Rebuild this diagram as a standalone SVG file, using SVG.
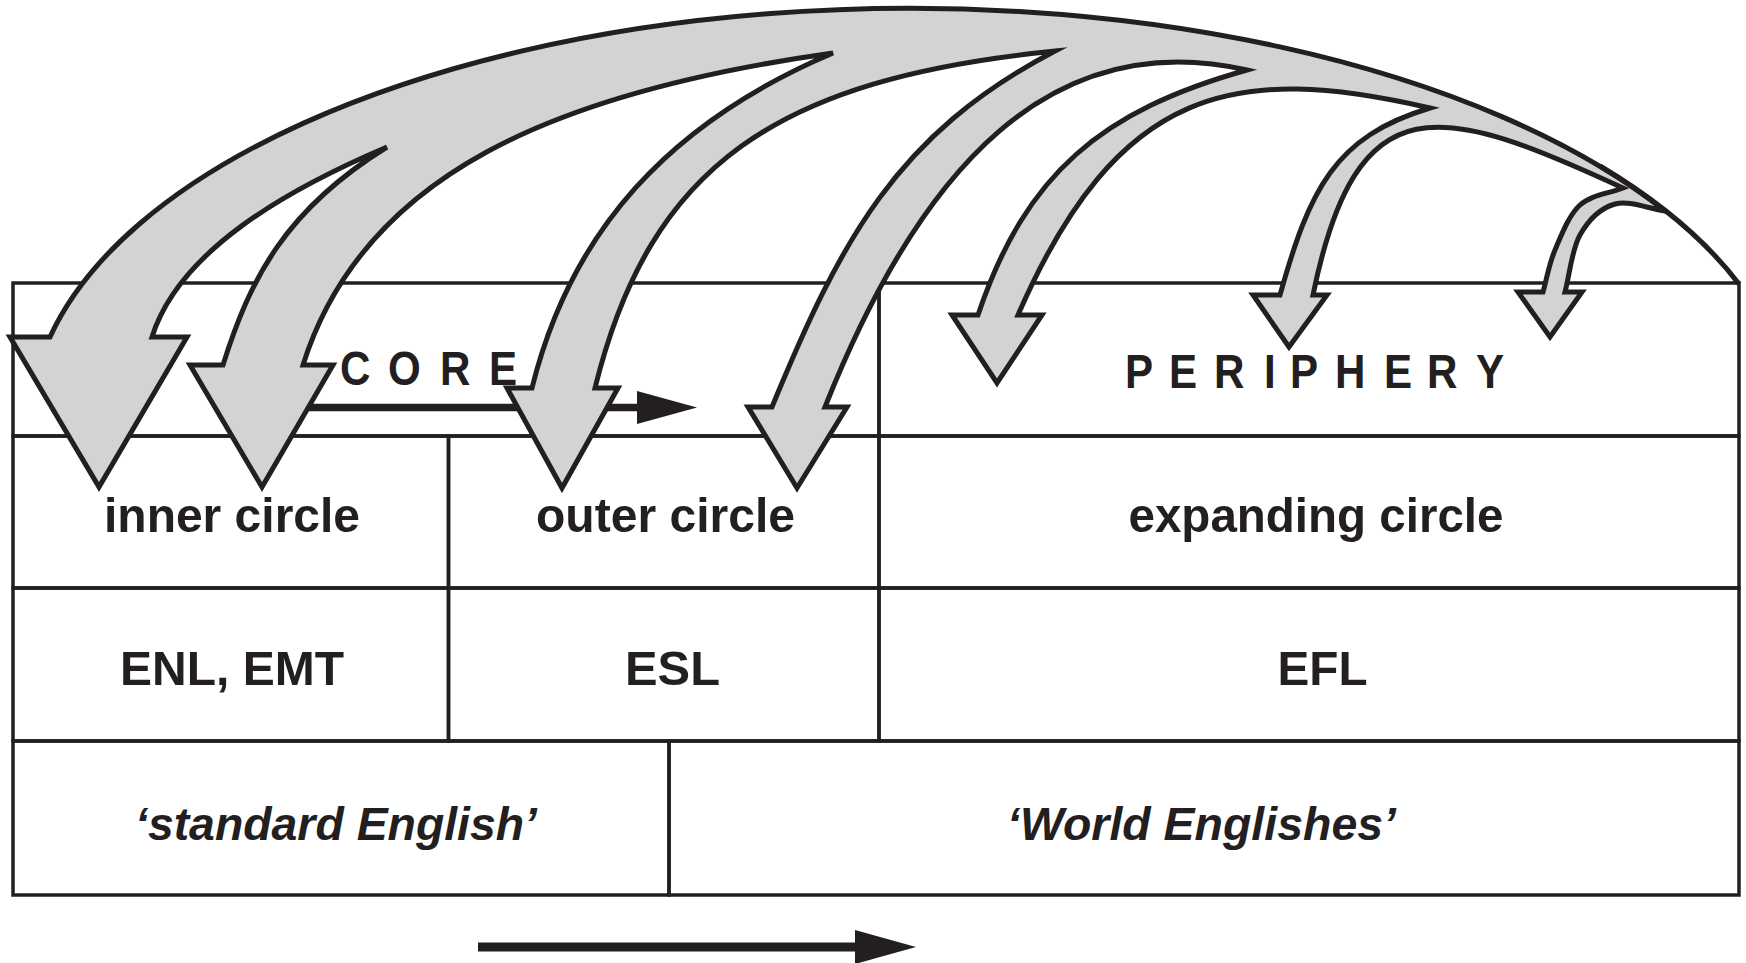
<svg xmlns="http://www.w3.org/2000/svg" width="1746" height="963" viewBox="0 0 1746 963">
<style>
.cell{fill:none;stroke:#231f20;stroke-width:3.5}
.t{font-family:"Liberation Sans",Arial,sans-serif;font-weight:bold;font-size:49px;fill:#231f20}
.ti{font-family:"Liberation Sans",Arial,sans-serif;font-weight:bold;font-style:italic;font-size:46px;fill:#231f20}
.sp{font-family:"Liberation Sans",Arial,sans-serif;font-weight:bold;font-size:49px;fill:#231f20}
.fan{fill:#d1d3d4;stroke:#231f20;stroke-width:5;stroke-linejoin:miter;stroke-miterlimit:6}
.arc{fill:none;stroke:#231f20;stroke-width:5}
.ln{stroke:#231f20;fill:none}
.hd{fill:#231f20}
</style>
<rect width="1746" height="963" fill="#ffffff"/>
<g id="cell-core"><rect class="cell" x="13" y="283" width="866" height="153"/><text class="sp" transform="scale(0.86,1)" x="395.3 451.2 511.6 568.6" y="385">CORE</text></g>
<g id="cell-periphery"><rect class="cell" x="879" y="283" width="860" height="153"/><text class="sp" transform="scale(0.86,1)" x="1308.1 1359.3 1411.6 1469.8 1500 1552.3 1609.3 1659.3 1716.3" y="388">PERIPHERY</text></g>
<g id="cell-inner"><rect class="cell" x="13" y="436" width="435.5" height="152"/><text class="t" x="104" y="532" textLength="256" lengthAdjust="spacingAndGlyphs">inner circle</text></g>
<g id="cell-outer"><rect class="cell" x="448.5" y="436" width="430.5" height="152"/><text class="t" x="536" y="532" textLength="259" lengthAdjust="spacingAndGlyphs">outer circle</text></g>
<g id="cell-expanding"><rect class="cell" x="879" y="436" width="860" height="152"/><text class="t" x="1128.5" y="532" textLength="375" lengthAdjust="spacingAndGlyphs">expanding circle</text></g>
<g id="cell-enl"><rect class="cell" x="13" y="588" width="435.5" height="153"/><text class="t" x="120" y="685" textLength="224" lengthAdjust="spacingAndGlyphs">ENL, EMT</text></g>
<g id="cell-esl"><rect class="cell" x="448.5" y="588" width="430.5" height="153"/><text class="t" x="625" y="685" textLength="95" lengthAdjust="spacingAndGlyphs">ESL</text></g>
<g id="cell-efl"><rect class="cell" x="879" y="588" width="860" height="153"/><text class="t" x="1277.5" y="685" textLength="90" lengthAdjust="spacingAndGlyphs">EFL</text></g>
<g id="cell-standard"><rect class="cell" x="13" y="741" width="656" height="154"/><text class="ti" x="135" y="840" textLength="402" lengthAdjust="spacingAndGlyphs">‘standard English’</text></g>
<g id="cell-world"><rect class="cell" x="669" y="741" width="1070" height="154"/><text class="ti" x="1007" y="840" textLength="389" lengthAdjust="spacingAndGlyphs">‘World Englishes’</text></g>
<g id="connectors">
<line class="ln" x1="300" y1="407.5" x2="640" y2="407.5" stroke-width="7.5"/>
<polygon class="hd" points="637,391 697,407.5 637,424"/>
<path class="fan" d="M1665,211 A880,417 0 0 0 50,337 L10,337 L99,487 L187,337 L152,337
C179,251 286,190 387,147
C285,210 250,279 223,365
L190,365 L262,487 L333,365 L303,365
C363,174 556,92 833,53
C667.4,123.2 570.4,232.8 532,388
L507,388 L562,488 L618,388 L595,388
C650.2,164.9 776.4,79 1055,51
C895.5,134.3 840.4,241.4 772,407
L748,407 L797,488 L847,407 L825,407
C921.2,165.2 1052,26 1247,70
C1102.6,110.5 1026,172.5 978,315
L952,315 L997,383 L1042,315 L1018,315
C1118,85 1235.2,63 1430,108
C1334.2,136.7 1309.7,189.4 1280,295
L1253,295 L1289,347 L1327,295 L1313,295
C1357,79.4 1441.4,104.2 1623,188
C1608.7,193.7 1591.3,194.7 1580,205 S1561.2,235.5 1555,250 S1547,278 1543,292
L1518,292 L1550,337 L1582,292 L1565,292
C1570,273 1571.7,249.7 1580,235 S1600.8,208 1615,204 S1648.3,208.7 1665,211 Z"/>
<path class="arc" d="M1600,166 A880,417 0 0 1 1739,284"/>
<line class="ln" x1="478" y1="947" x2="858" y2="947" stroke-width="9"/>
<polygon class="hd" points="855,930 916,947 855,964"/>
</g>
</svg>
